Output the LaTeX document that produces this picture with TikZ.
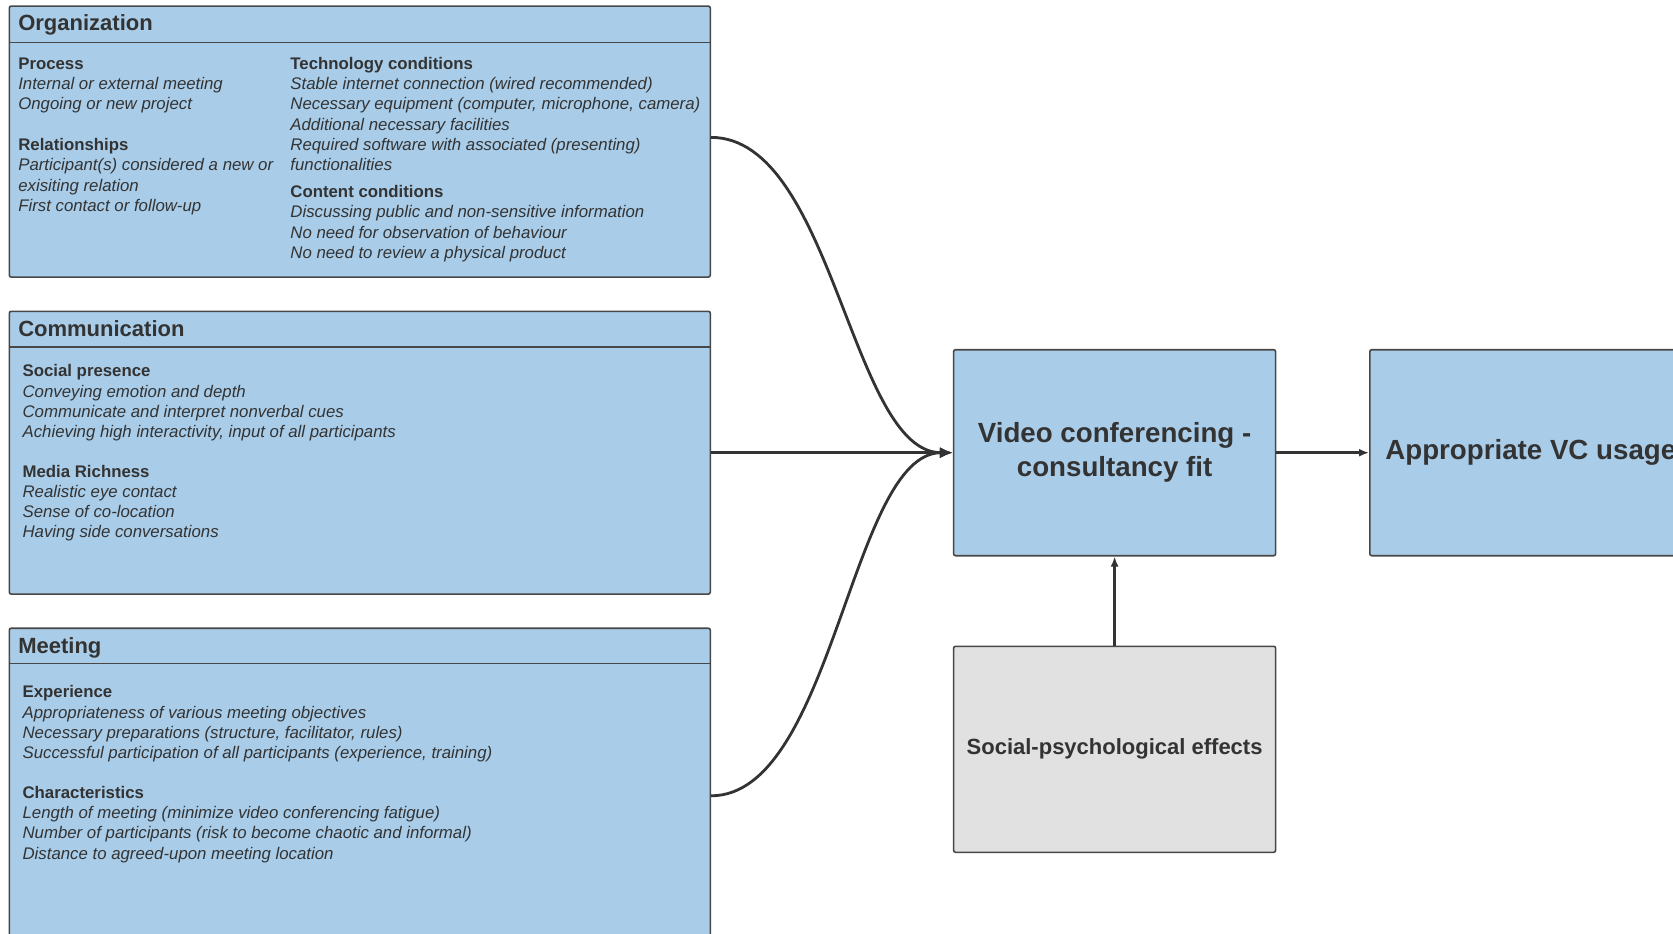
\documentclass[tikz,border=0pt]{standalone}
\usepackage{fontspec}
\setmainfont{Liberation Sans}
\usetikzlibrary{arrows.meta}
\definecolor{boxblue}{HTML}{A9CCE8}
\definecolor{boxgray}{HTML}{E1E1E1}
\definecolor{edgecol}{HTML}{474747}
\definecolor{txtcol}{HTML}{333333}
\newcommand\hdr{\upshape\bfseries}
\tikzset{
  panel/.style={draw=edgecol, line width=1.6pt, fill=boxblue, rounded corners=2pt,
    anchor=north west, inner sep=0pt},
  stagebox/.style={draw=edgecol, line width=1.6pt, rounded corners=2pt, inner sep=0pt,
    minimum width=322pt, minimum height=206pt, anchor=north west, align=center,
    text=txtcol},
  rule/.style={draw=edgecol, line width=1.4pt},
  paneltitle/.style={anchor=base west, inner sep=0pt, text=txtcol,
    font=\fontsize{22}{26}\selectfont\bfseries},
  item/.style={anchor=base west, inner sep=0pt, text=txtcol, yshift=-1pt,
    font=\fontsize{16.8}{20}\selectfont\itshape},
  conn/.style={draw=txtcol, line width=2.8pt, -{Latex[length=13pt,width=11pt]}},
}
\begin{document}
\begin{tikzpicture}[x=1pt,y=-1pt]
\useasboundingbox[fill=white] (0,0) rectangle (1673,934);

% ---- left panels ----
\node[panel, minimum width=701pt, minimum height=271pt] (org) at (8.5,5.3) {};
\node[panel, minimum width=701pt, minimum height=282.8pt] (comm) at (8.5,310.5) {};
\node[panel, minimum width=701pt, minimum height=335.2pt] (meet) at (8.5,627.4) {};
\draw[rule] (org.west |- 0,42.7) -- (org.east |- 0,42.7);
\draw[rule] (comm.west |- 0,346.8) -- (comm.east |- 0,346.8);
\draw[rule] (meet.west |- 0,663.7) -- (meet.east |- 0,663.7);

\node[paneltitle] (orgT) at (18.1,30.9) {Organization};
\node[paneltitle] (commT) at (18.1,336.0) {Communication};
\node[paneltitle] (meetT) at (18.1,653.0) {Meeting};

% Organization, left column
\foreach \yy/\txt [count=\i] in {
  68.5/{\hdr Process},
  88.7/{Internal or external meeting},
  109.0/{Ongoing or new project},
  149.5/{\hdr Relationships},
  169.8/{Participant(s) considered a new or},
  190.1/{exisiting relation},
  210.4/{First contact or follow-up}}
  \node[item] (ol\i) at (18.1,\yy) {\txt};

% Organization, right column
\foreach \yy/\txt [count=\i] in {
  68.5/{\hdr Technology conditions},
  88.7/{Stable internet connection (wired recommended)},
  109.0/{Necessary equipment (computer, microphone, camera)},
  129.3/{Additional necessary facilities},
  149.5/{Required software with associated (presenting)},
  169.8/{functionalities},
  196.5/{\hdr Content conditions},
  216.8/{Discussing public and non-sensitive information},
  237.0/{No need for observation of behaviour},
  257.3/{No need to review a physical product}}
  \node[item] (or\i) at (290.2,\yy) {\txt};

% Communication
\foreach \yy/\txt [count=\i] in {
  375.7/{\hdr Social presence},
  396.0/{Conveying emotion and depth},
  416.3/{Communicate and interpret nonverbal cues},
  436.6/{Achieving high interactivity, input of all participants},
  476.0/{\hdr Media Richness},
  496.3/{Realistic eye contact},
  516.6/{Sense of co-location},
  536.9/{Having side conversations}}
  \node[item] (cl\i) at (22.4,\yy) {\txt};

% Meeting
\foreach \yy/\txt [count=\i] in {
  696.9/{\hdr Experience},
  717.2/{Appropriateness of various meeting objectives},
  737.5/{Necessary preparations (structure, facilitator, rules)},
  757.7/{Successful participation of all participants (experience, training)},
  797.2/{\hdr Characteristics},
  817.5/{Length of meeting (minimize video conferencing fatigue)},
  837.8/{Number of participants (risk to become chaotic and informal)},
  858.0/{Distance to agreed-upon meeting location}}
  \node[item] (ml\i) at (22.4,\yy) {\txt};

% ---- right-hand boxes ----
\node[stagebox, fill=boxblue, font=\fontsize{27.7}{34}\selectfont\bfseries]
  (vc) at (952.8,348.9) {Video conferencing -\\consultancy fit};
\node[stagebox, fill=boxblue, font=\fontsize{27.7}{34}\selectfont\bfseries]
  (use) at (1369,348.9) {Appropriate VC usage};
\node[stagebox, fill=boxgray, font=\fontsize{22}{26}\selectfont\bfseries]
  (soc) at (952.8,645.5) {Social-psychological effects};

% ---- connectors ----
\draw[conn] ([yshift=4.2pt]org.east) .. controls +(122,0) and +(-102,0) .. (vc.west);
\draw[conn] (comm.east) -- (vc.west);
\draw[conn] (meet.east) .. controls +(122,0) and +(-102,0) .. (vc.west);
\draw[conn, -{Latex[length=10pt,width=8pt]}] (vc.east) -- (use.west);
\draw[conn, line width=2.4pt, -{Latex[length=10pt,width=8pt]}] (soc.north) -- (vc.south);
\end{tikzpicture}
\end{document}
